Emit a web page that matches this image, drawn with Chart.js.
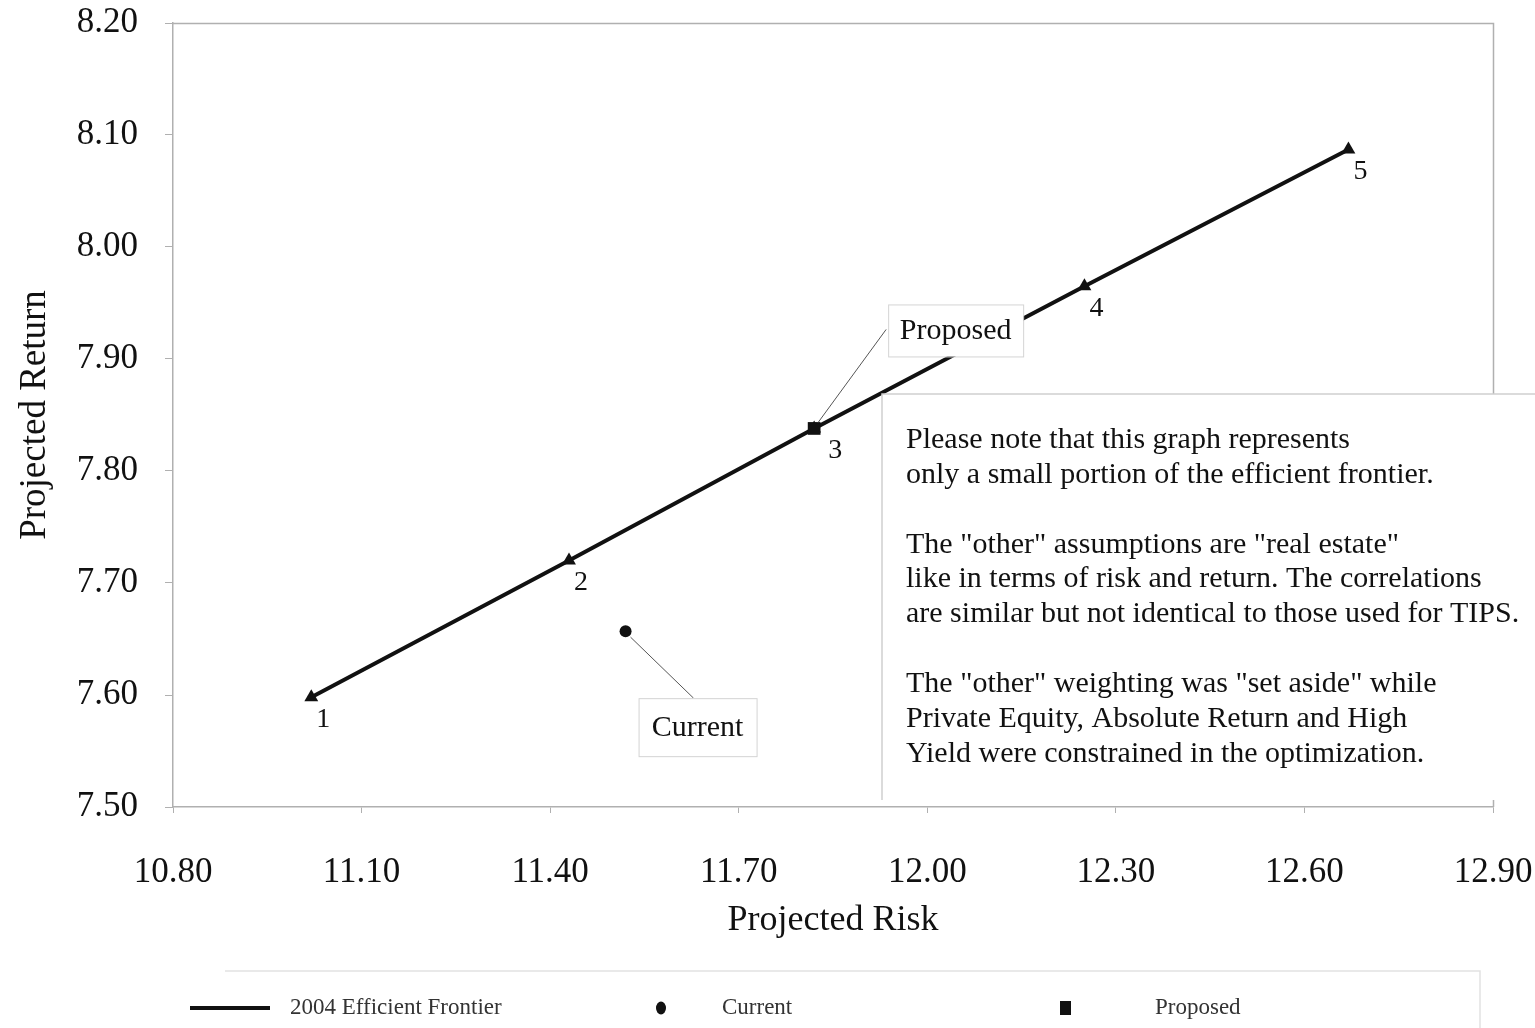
<!DOCTYPE html>
<html>
<head>
<meta charset="utf-8">
<script src="https://cdn.jsdelivr.net/npm/chart.js@4/dist/chart.umd.min.js"></script>
<style>
  html, body { margin: 0; padding: 0; background: #fff; }
  #wrap { width: 1535px; height: 1028px; }
</style>
</head>
<body>
<div id="wrap"><canvas id="c" width="1535" height="1028"></canvas></div>
<script>
// Efficient frontier portfolios (risk, return)
const frontierRisk   = [11.02, 11.43, 11.82, 12.25, 12.67];
const frontierReturn = [7.598, 7.72, 7.838, 7.965, 8.087];
const frontierLabels = ['1', '2', '3', '4', '5'];

const currentRisk = [11.52];
const currentReturn = [7.657];

const proposedRisk = [11.82];
const proposedReturn = [7.838];

const seriesNames = ['2004 Efficient Frontier', 'Current', 'Proposed'];

const xTicks = [10.80, 11.10, 11.40, 11.70, 12.00, 12.30, 12.60, 12.90];
const yTicks = [7.50, 7.60, 7.70, 7.80, 7.90, 8.00, 8.10, 8.20];

const noteLines = [
  'Please note that this graph represents',
  'only a small portion of the efficient frontier.',
  '',
  'The "other" assumptions are "real estate"',
  'like in terms of risk and return. The correlations',
  'are similar but not identical to those used for TIPS.',
  '',
  'The "other" weighting was "set aside" while',
  'Private Equity, Absolute Return and High',
  'Yield were constrained in the optimization.'
];

const SERIF = '"Liberation Serif", "DejaVu Serif", serif';

const toPoints = (xs, ys) => xs.map((x, i) => ({ x: x, y: ys[i] }));

// Frame, point numbers, callouts, note box and legend
const decorations = {
  id: 'decorations',
  afterDatasetsDraw(chart) {
    const ctx = chart.ctx;
    const area = chart.chartArea;
    const xs = chart.scales.x, ys = chart.scales.y;

    ctx.save();
    // top and right edges of the plot frame
    ctx.strokeStyle = '#b0b0b0';
    ctx.lineWidth = 1.5;
    ctx.beginPath();
    ctx.moveTo(area.left, area.top + 0.5);
    ctx.lineTo(area.right + 0.5, area.top + 0.5);
    ctx.lineTo(area.right + 0.5, area.bottom);
    ctx.stroke();

    // numbers beside each frontier portfolio
    ctx.fillStyle = '#111';
    ctx.font = '28px ' + SERIF;
    ctx.textAlign = 'center';
    ctx.textBaseline = 'middle';
    frontierLabels.forEach((lab, i) => {
      const px = xs.getPixelForValue(frontierRisk[i]);
      const py = ys.getPixelForValue(frontierReturn[i]);
      const dx = (i === 2) ? 21 : 12;
      ctx.fillText(lab, px + dx, py + 22);
    });

    // callout helper
    function callout(text, px, py, bx, by, bw, bh, lx, ly) {
      ctx.strokeStyle = '#555';
      ctx.lineWidth = 1;
      ctx.beginPath();
      ctx.moveTo(px, py);
      ctx.lineTo(lx, ly);
      ctx.stroke();
      ctx.fillStyle = '#fff';
      ctx.fillRect(bx, by, bw, bh);
      ctx.strokeStyle = '#d4d4d4';
      ctx.strokeRect(bx + 0.5, by + 0.5, bw, bh);
      ctx.fillStyle = '#111';
      ctx.font = '30px ' + SERIF;
      ctx.textAlign = 'center';
      ctx.textBaseline = 'middle';
      ctx.fillText(text, bx + bw / 2, by + bh / 2 + 1);
    }

    const pX = xs.getPixelForValue(proposedRisk[0]);
    const pY = ys.getPixelForValue(proposedReturn[0]);
    callout('Proposed', pX + 4, pY - 6, pX + 74, pY - 124, 135, 52, pX + 72, pY - 99);

    const cX = xs.getPixelForValue(currentRisk[0]);
    const cY = ys.getPixelForValue(currentReturn[0]);
    callout('Current', cX + 5, cY + 6, cX + 13, cY + 67, 118, 58, cX + 68, cY + 67);

    // note box
    const nx = 882, ny = 394;
    ctx.fillStyle = '#fff';
    ctx.fillRect(nx, ny, 1535 - nx, 406);
    ctx.strokeStyle = '#d0d0d0';
    ctx.lineWidth = 1.5;
    ctx.beginPath();
    ctx.moveTo(1535, ny);
    ctx.lineTo(nx, ny);
    ctx.lineTo(nx, ny + 406);
    ctx.stroke();
    ctx.fillStyle = '#111';
    ctx.font = '30px ' + SERIF;
    ctx.textAlign = 'left';
    ctx.textBaseline = 'middle';
    noteLines.forEach((ln, i) => {
      if (ln) ctx.fillText(ln, 906, 440 + i * 34.9);
    });

    // legend
    const ly = 1008;
    ctx.strokeStyle = '#e2e2e2';
    ctx.lineWidth = 1.5;
    ctx.beginPath();
    ctx.moveTo(225, 971);
    ctx.lineTo(1480, 971);
    ctx.lineTo(1480, 1028);
    ctx.stroke();

    ctx.font = '23px ' + SERIF;
    ctx.textAlign = 'left';
    ctx.textBaseline = 'middle';

    ctx.strokeStyle = '#111';
    ctx.lineWidth = 4;
    ctx.beginPath();
    ctx.moveTo(190, ly); ctx.lineTo(270, ly);
    ctx.stroke();
    ctx.fillStyle = '#333';
    ctx.fillText(seriesNames[0], 290, ly);

    ctx.fillStyle = '#111';
    ctx.beginPath();
    ctx.ellipse(661, ly, 5, 6.5, 0, 0, Math.PI * 2);
    ctx.fill();
    ctx.fillStyle = '#333';
    ctx.fillText(seriesNames[1], 722, ly);

    ctx.fillStyle = '#111';
    ctx.fillRect(1060, ly - 7, 11, 14);
    ctx.fillStyle = '#333';
    ctx.fillText(seriesNames[2], 1155, ly);

    ctx.restore();
  }
};

new Chart(document.getElementById('c'), {
  type: 'scatter',
  data: {
    datasets: [
      {
        label: seriesNames[0],
        data: toPoints(frontierRisk, frontierReturn),
        showLine: true,
        borderColor: '#111',
        backgroundColor: '#111',
        borderWidth: 4,
        pointStyle: 'triangle',
        pointRadius: 8,
        pointBorderWidth: 0,
        order: 3
      },
      {
        label: seriesNames[1],
        data: toPoints(currentRisk, currentReturn),
        borderColor: '#111',
        backgroundColor: '#111',
        pointStyle: 'circle',
        pointRadius: 6,
        pointBorderWidth: 0,
        order: 2
      },
      {
        label: seriesNames[2],
        data: toPoints(proposedRisk, proposedReturn),
        borderColor: '#111',
        backgroundColor: '#111',
        pointStyle: 'rect',
        pointRadius: 9,
        pointBorderWidth: 0,
        order: 1
      }
    ]
  },
  options: {
    responsive: false,
    animation: false,
    layout: { padding: { left: 0, top: 23, right: 42, bottom: 81 } },
    plugins: {
      legend: { display: false },
      tooltip: { enabled: false }
    },
    scales: {
      x: {
        type: 'linear',
        min: xTicks[0],
        max: xTicks[xTicks.length - 1],
        afterBuildTicks: s => { s.ticks = xTicks.map(v => ({ value: v })); },
        afterFit: s => { s.height = 140; s.paddingLeft = 0; s.paddingRight = 0; },
        border: { display: true, color: '#b0b0b0', width: 1.5 },
        grid: { drawOnChartArea: false, drawTicks: true, tickLength: 6, color: '#b0b0b0' },
        ticks: {
          color: '#111',
          padding: 39,
          maxRotation: 0,
          font: { family: SERIF, size: 35 },
          callback: v => Number(v).toFixed(2)
        },
        title: {
          display: true,
          text: 'Projected Risk',
          color: '#111',
          font: { family: SERIF, size: 36 },
          padding: { top: 0, bottom: 5 }
        }
      },
      y: {
        type: 'linear',
        min: yTicks[0],
        max: yTicks[yTicks.length - 1],
        afterBuildTicks: s => { s.ticks = yTicks.map(v => ({ value: v })); },
        afterFit: s => { s.width = 173; s.paddingTop = 0; s.paddingBottom = 0; },
        border: { display: true, color: '#b0b0b0', width: 1.5 },
        grid: { drawOnChartArea: false, drawTicks: true, tickLength: 8, color: '#b0b0b0' },
        ticks: {
          color: '#111',
          padding: 27,
          font: { family: SERIF, size: 35 },
          callback: v => Number(v).toFixed(2)
        },
        title: {
          display: true,
          text: 'Projected Return',
          color: '#111',
          font: { family: SERIF, size: 37 },
          padding: { top: 13, bottom: 0 }
        }
      }
    }
  },
  plugins: [decorations]
});
</script>
</body>
</html>
